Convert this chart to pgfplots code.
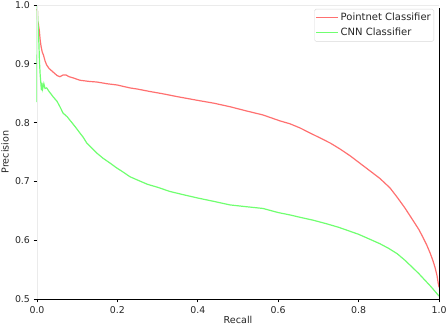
\documentclass[border=0pt]{standalone}
\usepackage{pgfplots}
\pgfplotsset{compat=1.18}
\usetikzlibrary{calc}
\usepackage{fontspec}
\setmainfont{DejaVu Sans}
\definecolor{pnred}{RGB}{255,112,112}
\definecolor{cnngreen}{RGB}{112,255,112}
\definecolor{spinegray}{RGB}{235,235,235}
\begin{document}
\begin{tikzpicture}[x=1pt,y=1pt]
\begin{axis}[
  name=ax,
  scale only axis,
  width=402pt, height=294pt,
  xmin=0, xmax=1, ymin=0.5, ymax=1.0,
  xtick={0,0.2,0.4,0.6,0.8,1.0},
  ytick={0.5,0.6,0.7,0.8,0.9,1.0},
  xticklabels={0.0,0.2,0.4,0.6,0.8,1.0},
  yticklabels={0.5,0.6,0.7,0.8,0.9,1.0},
  tick align=outside,
  tick pos=left,
  major tick length=3.5pt,
  tick style={black, line width=0.8pt},
  axis line style={draw=none},
  ticklabel style={font=\fontsize{9.4}{10}\selectfont, text=black!85},
  xlabel={Recall},
  ylabel={Precision},
  every axis x label/.style={at={(rel axis cs:0.5,0)}, anchor=north, yshift=-14pt,
    font=\fontsize{9.6}{10}\selectfont, text=black!85},
  every axis y label/.style={at={(rel axis cs:0,0.5)}, xshift=-32pt, rotate=90, anchor=center,
    font=\fontsize{9.6}{10}\selectfont, text=black!85},
  legend style={at={(rel axis cs:1,1)}, xshift=-5pt, yshift=-4pt, anchor=north east,
    draw=black!15, rounded corners=1.5pt, font=\fontsize{10}{11}\selectfont,
    text=black!85, row sep=2pt, inner xsep=1pt, inner ysep=2pt,
    nodes={inner sep=2pt}},
  legend cell align=left,
  legend image code/.code={\draw[#1] (0pt,0pt) -- (22pt,0pt);},
  clip=false,
]
\addplot[pnred, line width=1.2pt] coordinates {
(0.000,0.993)(0.001,0.990)(0.002,0.960)(0.004,0.965)(0.006,0.955)(0.008,0.940)
(0.010,0.930)(0.013,0.920)(0.016,0.915)(0.020,0.905)(0.024,0.898)(0.030,0.892)
(0.040,0.886)(0.050,0.880)(0.057,0.878)(0.065,0.881)(0.072,0.881)(0.080,0.878)
(0.090,0.876)(0.107,0.872)(0.130,0.870)(0.149,0.869)(0.175,0.866)(0.199,0.864)
(0.231,0.859)(0.250,0.857)(0.280,0.853)(0.313,0.849)(0.350,0.844)(0.398,0.838)
(0.440,0.833)(0.480,0.827)(0.520,0.820)(0.562,0.813)(0.604,0.803)(0.629,0.798)
(0.654,0.791)(0.680,0.782)(0.704,0.774)(0.730,0.765)(0.754,0.755)(0.780,0.743)
(0.803,0.731)(0.830,0.717)(0.853,0.705)(0.878,0.689)(0.896,0.673)(0.915,0.655)
(0.935,0.634)(0.950,0.618)(0.960,0.605)(0.970,0.591)(0.978,0.578)(0.985,0.565)
(0.990,0.554)(0.995,0.540)(0.998,0.527)(1.000,0.520)
};
\addlegendentry{Pointnet Classifier}
\addplot[cnngreen, line width=1.2pt] coordinates {
(0.000,0.835)(0.0005,0.998)(0.002,0.975)(0.003,0.963)(0.005,0.930)(0.006,0.906)
(0.008,0.880)(0.009,0.872)(0.011,0.855)(0.012,0.868)(0.014,0.857)(0.017,0.866)
(0.020,0.858)(0.024,0.859)(0.030,0.853)(0.040,0.844)(0.050,0.836)(0.057,0.827)
(0.065,0.816)(0.075,0.810)(0.082,0.804)(0.095,0.793)(0.107,0.782)(0.115,0.775)
(0.124,0.765)(0.136,0.757)(0.149,0.748)(0.165,0.739)(0.182,0.731)(0.198,0.723)
(0.214,0.716)(0.231,0.708)(0.251,0.702)(0.275,0.695)(0.300,0.690)(0.330,0.683)
(0.360,0.678)(0.398,0.672)(0.440,0.666)(0.480,0.660)(0.520,0.657)(0.562,0.654)
(0.600,0.647)(0.629,0.643)(0.654,0.639)(0.687,0.634)(0.720,0.628)(0.750,0.622)
(0.771,0.617)(0.800,0.610)(0.830,0.601)(0.853,0.594)(0.875,0.586)(0.896,0.577)
(0.915,0.566)(0.935,0.553)(0.950,0.543)(0.965,0.532)(0.980,0.521)(0.990,0.513)
(1.000,0.505)
};
\addlegendentry{CNN Classifier}
\draw[spinegray, line width=0.8pt] (rel axis cs:0,0) -- (rel axis cs:0,1) -- (rel axis cs:1,1);
\draw[black, line width=0.8pt] (rel axis cs:0,0) -- (rel axis cs:1,0) -- (rel axis cs:1,0.99);
\end{axis}
\pgfresetboundingbox
\useasboundingbox ($(ax.south west)+(-37pt,-29pt)$) rectangle ($(ax.north east)+(7pt,5pt)$);
\end{tikzpicture}
\end{document}
